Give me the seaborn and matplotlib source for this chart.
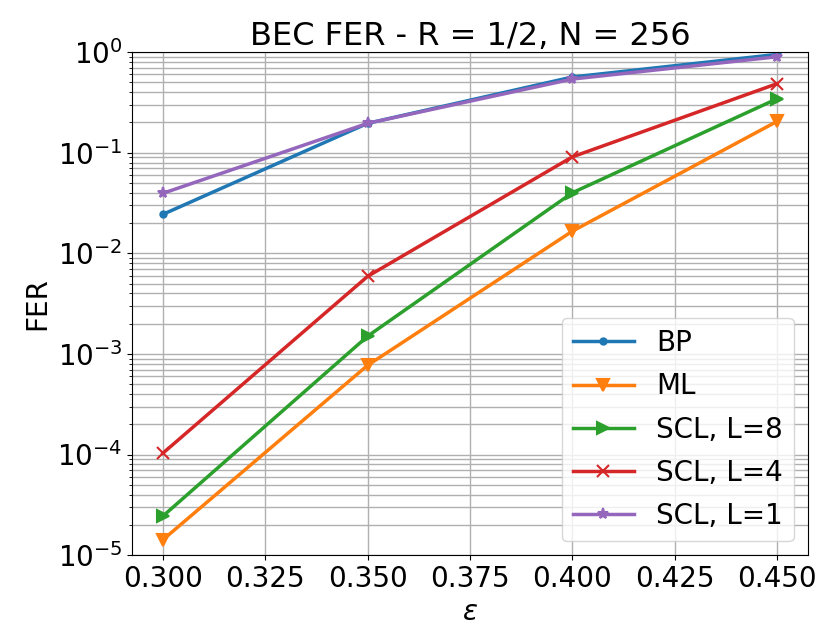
import numpy as np
import pandas as pd
import seaborn as sns
import matplotlib
matplotlib.use('Agg')
import matplotlib.pyplot as plt
from matplotlib.ticker import MultipleLocator, FormatStrFormatter

eps = [0.30, 0.35, 0.40, 0.45]
bp = [0.0244, 0.196, 0.566, 0.95]
ml = [1.42e-5, 7.7e-4, 0.0166, 0.205]
scl8 = [2.44e-5, 1.5e-3, 0.040, 0.344]
scl4 = [1.03e-4, 5.9e-3, 0.091, 0.486]
scl1 = [0.0395, 0.196, 0.54, 0.9]

labels = ['BP', 'ML', 'SCL, L=8', 'SCL, L=4', 'SCL, L=1']
series = [bp, ml, scl8, scl4, scl1]
markers = ['.', 'v', '>', 'x', '*']

plt.rcParams['font.size'] = 20
fig, ax = plt.subplots(figsize=(8.31, 6.44), dpi=100)
colors = sns.color_palette('tab10')

for i, (lab, vals, mk) in enumerate(zip(labels, series, markers)):
    df = pd.DataFrame({'eps': eps, 'fer': vals})
    sns.lineplot(data=df, x='eps', y='fer', marker=mk, markersize=8 if mk != '.' else 9,
                 color=colors[i], linewidth=2.5, label=lab, ax=ax,
                 markeredgecolor=colors[i] if mk != 'x' else None, mew=1.5)

ax.set_yscale('log')
ax.set_ylim(1e-5, 1)
ax.xaxis.set_major_locator(MultipleLocator(0.025))
ax.xaxis.set_major_formatter(FormatStrFormatter('%.3f'))
ax.grid(True, which='both', color='#b0b0b0', linewidth=1)
ax.set_title('BEC FER - R = 1/2, N = 256', fontsize=23, pad=5)
ax.set_xlabel(r'$\epsilon$')
ax.set_ylabel('FER')
ax.legend(loc='lower right', handlelength=2.2, labelspacing=0.55)
fig.subplots_adjust(left=0.159, right=0.972, top=0.919, bottom=0.138)
fig.savefig('out.png')
